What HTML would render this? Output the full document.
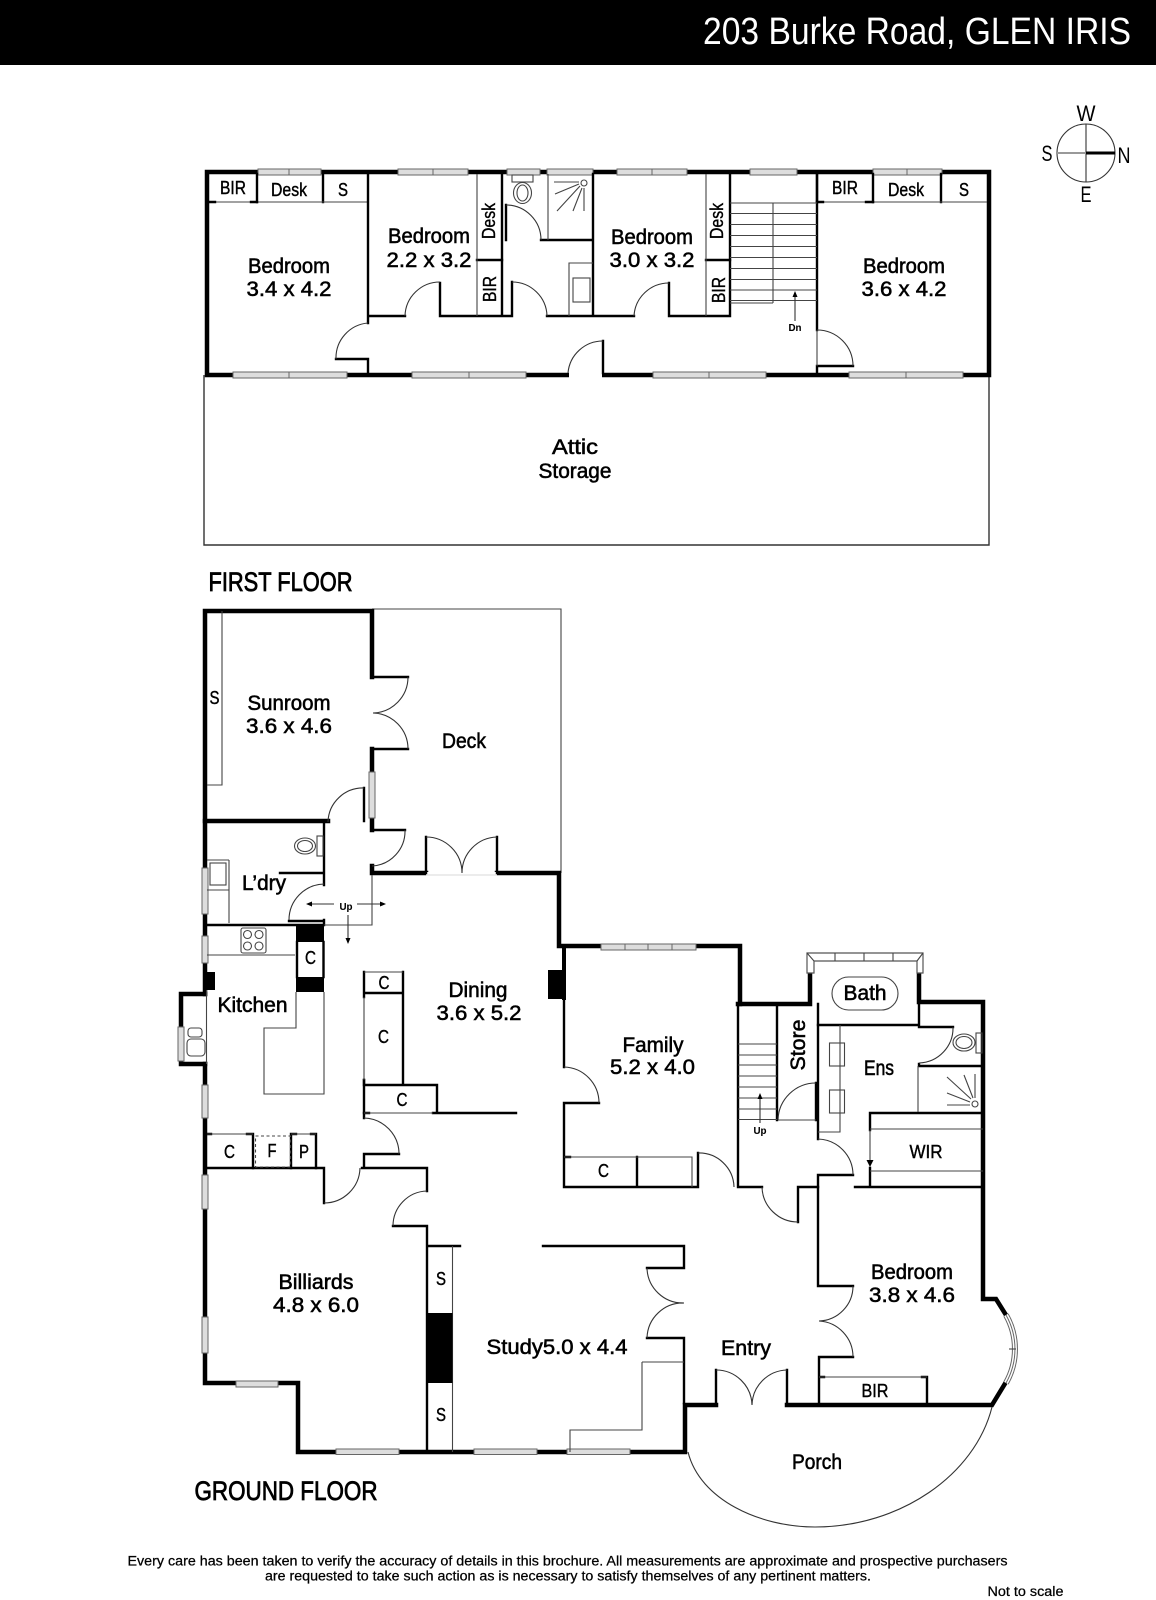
<!DOCTYPE html>
<html><head><meta charset="utf-8"><title>203 Burke Road, GLEN IRIS</title>
<style>
html,body{margin:0;padding:0;background:#fff}
svg{display:block}
text{font-family:"Liberation Sans",sans-serif;fill:#000;text-anchor:middle;stroke:#000;stroke-width:.55}
.f{fill:none}
.W{fill:none;stroke:#000;stroke-width:4.5;stroke-linecap:square}
.M{fill:none;stroke:#000;stroke-width:2.4;stroke-linecap:square}
.T{fill:none;stroke:#444;stroke-width:1.1}
.A{fill:none;stroke:#333;stroke-width:1.1}
.win{fill:#ddd;stroke:#666;stroke-width:1}
.winl{stroke:#666;stroke-width:1}
.r{font-size:21px}.s{font-size:18px;stroke-width:.4}.xs{font-size:10.5px;font-weight:bold;stroke-width:.1}
.h{font-size:27px;stroke-width:.8}.foot{font-size:13.5px;stroke-width:.25}
.ar{fill:#000;stroke:none}
</style></head>
<body>
<svg width="1156" height="1600" viewBox="0 0 1156 1600" xmlns="http://www.w3.org/2000/svg">
<rect width="1156" height="1600" fill="#fff"/>
<rect width="1156" height="65" fill="#000"/>
<text x="917" y="44" font-size="38" textLength="428" lengthAdjust="spacingAndGlyphs" style="fill:#fff;stroke:none">203 Burke Road, GLEN IRIS</text>

<!-- compass -->
<circle cx="1086" cy="153" r="29" class="A"/>
<path d="M1086 124V182" class="A"/>
<path d="M1057 153H1086" stroke="#999" stroke-width="2"/>
<path d="M1086 153H1115" stroke="#000" stroke-width="3"/>
<text x="1086" y="121" font-size="22" textLength="19" lengthAdjust="spacingAndGlyphs" style="stroke:none">W</text>
<text x="1047" y="161" font-size="22" textLength="11" lengthAdjust="spacingAndGlyphs" style="stroke:none">S</text>
<text x="1124" y="163" font-size="22" textLength="13" lengthAdjust="spacingAndGlyphs" style="stroke:none">N</text>
<text x="1086" y="202" font-size="22" textLength="11" lengthAdjust="spacingAndGlyphs" style="stroke:none">E</text>

<!-- FIRST FLOOR plan -->
<path d="M204 375V545H989V375" fill="none" stroke="#333" stroke-width="1.4"/>
<rect x="207" y="172" width="782" height="203" class="W"/>
<g id="ffwin">
<rect class="win" x="258" y="169" width="63" height="6"/><path class="winl" d="M289 169v6"/>
<rect class="win" x="398" y="169" width="70" height="6"/><path class="winl" d="M433 169v6"/>
<rect class="win" x="507" y="169" width="33" height="6"/>
<rect class="win" x="547" y="169" width="46" height="6"/>
<rect class="win" x="617" y="169" width="70" height="6"/><path class="winl" d="M652 169v6"/>
<rect class="win" x="750" y="169" width="47" height="6"/>
<rect class="win" x="873" y="169" width="69" height="6"/><path class="winl" d="M907 169v6"/>
<rect class="win" x="233" y="372" width="114" height="6"/><path class="winl" d="M289 372v6"/>
<rect class="win" x="412" y="372" width="114" height="6"/><path class="winl" d="M469 372v6"/>
<rect class="win" x="653" y="372" width="113" height="6"/><path class="winl" d="M709 372v6"/>
<rect class="win" x="849" y="372" width="114" height="6"/><path class="winl" d="M906 372v6"/>
</g>
<rect x="569" y="372" width="33" height="7" fill="#fff"/>
<path class="M" d="M257 174V202M323 174V202M817 174V202M873 174V202M941 174V202"/>
<path class="T" d="M209 202H368M817 202H987"/>
<path class="M" d="M209 202H215M251 202H257M817 202H823M866 202H873"/>
<path class="M" d="M368 174V323M368 359V373M368 316H405M440 316V283M440 316H502M502 174V316M512 316V282M502 316H512M547 316H593M593 174V316M593 316H634M669 316V283M669 316H730M730 174V316M817 174V330M817 366V373M817 366H853M336 359H368M506 205V240M541 240H593M603 341V373"/>
<path class="M" d="M477 260H502M706 260H730"/>
<path class="T" d="M477 174V316M706 174V316M548 174V240M569 316V263H593"/>
<rect x="573" y="278" width="17" height="24" class="T"/>
<path class="T" d="M817 330V366"/>
<g class="A">
<path class="f" d="M368 323A35 35 0 0 0 336 359M405 316A35 35 0 0 1 440 282M506 205A35 35 0 0 1 541 240M512 282A35 35 0 0 1 547 316M634 316A35 35 0 0 1 669 283M568 373A35 35 0 0 1 603 341M817 330A36 36 0 0 1 853 366"/>
</g>
<!-- toilet, shower -->
<rect x="512" y="175" width="21" height="7" class="T"/>
<ellipse cx="522.5" cy="193" rx="9" ry="10.5" class="T"/><ellipse cx="522.5" cy="193" rx="5.5" ry="8" class="T"/>
<circle cx="584" cy="183" r="3" class="T"/>
<path class="T" d="M579 182H554M579 184L555 194M580 186L557 211M582 188L573 211M584 188V211"/>
<!-- stairs -->
<path class="T" d="M730 203H817M730 213.500H817M730 224.500H817M730 235.500H817M730 246.500H817M730 257.500H817M730 268.500H817M730 279.500H817M730 290H817M730 300.500H817M773 203V303M730 303H773"/>
<path class="A" d="M795 321V295"/><path class="ar" d="M795 291l-2.500 6h5z"/>
<text class="xs" x="795" y="331" textLength="13" lengthAdjust="spacingAndGlyphs">Dn</text>

<!-- FF labels -->
<text class="r" x="289" y="273" textLength="82" lengthAdjust="spacingAndGlyphs">Bedroom</text>
<text class="r" x="289" y="296" textLength="85" lengthAdjust="spacingAndGlyphs">3.4 x 4.2</text>
<text class="r" x="429" y="243" textLength="82" lengthAdjust="spacingAndGlyphs">Bedroom</text>
<text class="r" x="429" y="267" textLength="85" lengthAdjust="spacingAndGlyphs">2.2 x 3.2</text>
<text class="r" x="652" y="244" textLength="82" lengthAdjust="spacingAndGlyphs">Bedroom</text>
<text class="r" x="652" y="267" textLength="85" lengthAdjust="spacingAndGlyphs">3.0 x 3.2</text>
<text class="r" x="904" y="273" textLength="82" lengthAdjust="spacingAndGlyphs">Bedroom</text>
<text class="r" x="904" y="296" textLength="85" lengthAdjust="spacingAndGlyphs">3.6 x 4.2</text>
<text class="s" x="233" y="194" textLength="26" lengthAdjust="spacingAndGlyphs">BIR</text>
<text class="s" x="289" y="196" textLength="36" lengthAdjust="spacingAndGlyphs">Desk</text>
<text class="s" x="343" y="196" textLength="10" lengthAdjust="spacingAndGlyphs">S</text>
<text class="s" x="845" y="194" textLength="26" lengthAdjust="spacingAndGlyphs">BIR</text>
<text class="s" x="906" y="196" textLength="36" lengthAdjust="spacingAndGlyphs">Desk</text>
<text class="s" x="964" y="196" textLength="10" lengthAdjust="spacingAndGlyphs">S</text>
<text class="s" transform="translate(495 221) rotate(-90)" textLength="36" lengthAdjust="spacingAndGlyphs">Desk</text>
<text class="s" transform="translate(496 289) rotate(-90)" textLength="26" lengthAdjust="spacingAndGlyphs">BIR</text>
<text class="s" transform="translate(723 221) rotate(-90)" textLength="36" lengthAdjust="spacingAndGlyphs">Desk</text>
<text class="s" transform="translate(725 290) rotate(-90)" textLength="26" lengthAdjust="spacingAndGlyphs">BIR</text>
<text class="r" x="575" y="454" textLength="46" lengthAdjust="spacingAndGlyphs">Attic</text>
<text class="r" x="575" y="478" textLength="73" lengthAdjust="spacingAndGlyphs">Storage</text>
<text class="h" x="280.500" y="591" textLength="144" lengthAdjust="spacingAndGlyphs">FIRST FLOOR</text>

<!-- GROUND FLOOR -->
<!-- deck -->
<path class="T" d="M372 609H561V873"/>
<!-- outer heavy walls -->
<path class="W" d="M372 677V611H205V994"/>
<path class="W" d="M205 1064V1383H298V1452H685V1405H716"/>
<path class="W" d="M787 1405H992L1006 1382"/>
<path class="W" d="M372 749V820M205 821H328M372 820V830M372 866V873H426M497 873H559V946H740V1004"/>
<path class="W" d="M738 1004H810V973M919 973V1002H983V1299H996L1006 1315"/>
<path class="W" d="M181 1027V994H205M181 1061V1064H205"/>
<rect x="203" y="972" width="12" height="18" fill="#000"/>
<rect x="548" y="970" width="16" height="29" fill="#000"/>
<rect x="562" y="946" width="4" height="54" fill="#000"/>
<!-- ground windows -->
<g>
<rect class="win" x="369" y="772" width="6" height="46"/>
<rect class="win" x="202" y="868" width="6" height="46"/>
<rect class="win" x="202" y="936" width="6" height="27"/>
<rect class="win" x="178" y="1027" width="6" height="34"/>
<rect class="win" x="202" y="1085" width="6" height="33"/>
<rect class="win" x="202" y="1175" width="6" height="34"/>
<rect class="win" x="202" y="1317" width="6" height="36"/>
<rect class="win" x="236" y="1381" width="42" height="6"/>
<rect class="win" x="336" y="1449" width="63" height="5.500"/>
<rect class="win" x="474" y="1449" width="63" height="5.500"/>
<rect class="win" x="567" y="1449" width="63" height="5.500"/>
<rect class="win" x="601" y="944" width="95" height="6"/><path class="winl" d="M625 944v6M648 944v6M672 944v6"/>
</g>
<rect x="426" y="872" width="71" height="4" fill="#fff"/><path d="M426 875H497" stroke="#ccc" stroke-width=".8"/>
<!-- bay window at bath -->
<path d="M807 973V953H923V973H917V961H814V973Z" fill="#fff" stroke="#555" stroke-width="1.2"/>
<path class="T" d="M835 953V961M864 953V961M893 953V961M807 953L814 961M923 953L917 961"/>
<!-- interior medium walls -->
<path class="M" d="M324 821V885M280 873H324M289 921H324M207 925H324M364 788V821M324 920V925"/>
<path class="M" d="M364 1080V1118M364 1154H399M364 1154V1168M207 1168H324V1203M362 1168H427V1191M427 1226V1452M393 1226H427M427 1246H460"/>
<path class="M" d="M364 972V997M403 972V1085M364 1085H437V1113M433 1113H516M364 1080V1085M364 1113H369M364 993H403"/>
<path class="M" d="M253 1134V1168M291 1134V1168M316 1134V1168M247 1134H253M291 1134H296M311 1134H316M207 1134H211"/>
<path class="T" d="M207 1134H253M291 1134H316M364 972H403M364 997V1080M364 1113H433"/>
<rect x="255.500" y="1136" width="35" height="31" fill="none" stroke="#444" stroke-width="1.100" stroke-dasharray="3 2.500"/>
<rect x="296" y="926" width="28" height="16" fill="#000"/>
<rect x="296" y="977" width="28" height="15" fill="#000"/>
<path class="M" d="M297 942V977M323.500 942V977"/>
<path class="T" d="M207 955H295M324 992V1094H264V1028H296V992M229 860H207M229 860V923M207 890H229M372 875V925H324"/>
<rect x="210" y="863" width="16" height="22" class="T"/>
<!-- family -->
<path class="M" d="M564 1000V1067M564 1103V1187H698V1153M564 1103H599M637 1157V1187M738 1004V1187H762M798 1187H818M798 1187V1222M564 1157H570"/>
<path class="T" d="M564 1157H692V1187"/>
<path class="M" d="M777 1004V1120M818 1004V1139M816 1083V1120M818 1175V1286M818 1175H853M819 1286H853M819 1357H853M819 1357V1405M927 1377V1405M819 1377H824M922 1377H927"/>
<path class="T" d="M819 1377H927"/>
<path class="M" d="M919 1002V1025M818 1025H919M919 1027H953M919 1064V1066H983M870 1113H983M870 1113V1130M870 1168V1187M855 1187H983"/>
<path class="T" d="M918 1066V1112M840 1025V1132H818M870 1129H983M870 1171H983M870 1130V1162"/>
<path class="ar" d="M870 1167l-3.500-7h7z"/>
<rect x="829.500" y="1043" width="15" height="23" class="T" fill="#fff"/><rect x="829.500" y="1090" width="15" height="23" class="T" fill="#fff"/>
<rect x="832" y="977" width="66" height="33" rx="16.500" class="T"/>
<!-- toilet -->
<rect x="976" y="1033" width="6" height="20" class="T"/>
<ellipse cx="964" cy="1042.500" rx="11" ry="8.500" class="T"/><ellipse cx="964" cy="1042.500" rx="8" ry="6" class="T"/>
<rect x="317" y="836" width="6" height="20" class="T"/>
<ellipse cx="305" cy="846" rx="10.500" ry="8" class="T"/><ellipse cx="305" cy="846" rx="7.500" ry="5.500" class="T"/>
<!-- shower ens -->
<circle cx="975" cy="1104" r="3" class="T"/>
<path class="T" d="M970 1105H947M970 1102L947 1093M971 1099L947 1077M973 1098L964 1075M975 1098V1074"/>
<!-- cooktop -->
<rect x="241" y="928" width="25" height="25" rx="2" class="T"/>
<circle cx="247.500" cy="934.500" r="4" class="T"/><circle cx="259" cy="934.500" r="4" class="T"/><circle cx="247.500" cy="946" r="4" class="T"/><circle cx="259" cy="946" r="4" class="T"/>
<!-- kitchen sink -->
<path class="T" d="M206.500 990V1064"/>
<rect x="188" y="1028" width="14" height="9" rx="3" class="T"/><rect x="187" y="1039" width="18" height="17" rx="4" class="T"/>
<!-- stairs -->
<path class="T" d="M738 1044H777M738 1055H777M738 1065H777M738 1076H777M738 1087H777M738 1098H777M738 1109H777M738 1119.500H777M778 1120H816"/>
<path class="A" d="M760 1123V1097"/><path class="ar" d="M760 1093l-2.500 6h5z"/>
<text class="xs" x="760" y="1134" textLength="13" lengthAdjust="spacingAndGlyphs">Up</text>
<!-- up arrows -->
<path class="A" d="M310 904H334M357 904H382M348 915V940"/>
<path class="ar" d="M306 904l6-2.500v5zM386 904l-6-2.500v5zM348 944l-2.500-6h5z"/>
<text class="xs" x="346" y="910" textLength="13" lengthAdjust="spacingAndGlyphs">Up</text>
<!-- S cupboard -->
<path class="T" d="M222 611V785H207"/>
<!-- study -->
<path class="M" d="M543 1246H684V1268M647 1268H684M647 1338H684V1403M716 1370V1405M787 1370V1405"/>
<path class="T" d="M452.500 1246V1452M642 1362H684M642 1362V1430H570V1452"/>
<rect x="427" y="1313" width="25.500" height="70" fill="#000"/>
<path class="M" d="M426 837V873M497 837V873"/>
<path class="M" d="M372 677H408M372 749H408M372 830H405"/>
<!-- door arcs -->
<path class="A" d="M408 677A36 36 0 0 1 373 713M373 713A36 36 0 0 1 408 749M364 788A35 35 0 0 0 328 822M405 830A35 35 0 0 1 372 866M426 837A36 36 0 0 1 462 873M497 837A36 36 0 0 0 462 873M324 884A36 36 0 0 0 289 920M364 1118A36 36 0 0 1 399 1154M324 1203A36 36 0 0 0 360 1168M427 1191A35 35 0 0 0 393 1226M564 1067A36 36 0 0 1 599 1103M698 1153A35 35 0 0 1 734 1187M816 1083A38 38 0 0 0 778 1120M953 1027A35 35 0 0 1 919 1063M818 1139A36 36 0 0 1 853 1175M798 1222A36 36 0 0 1 762 1187M647 1268A36 36 0 0 0 684 1303M684 1303A36 36 0 0 0 647 1338M853 1286A35 35 0 0 1 819 1321M819 1321A36 36 0 0 1 853 1357M716 1370A36 36 0 0 1 752 1405M787 1370A36 36 0 0 0 752 1405"/>
<!-- bay bedroom window -->
<path d="M1006 1315A69 69 0 0 1 1006 1383" fill="none" stroke="#666" stroke-width="6"/>
<path d="M1006 1315A69 69 0 0 1 1006 1383" fill="none" stroke="#fff" stroke-width="4"/>
<path d="M1006 1315A69 69 0 0 1 1006 1383" fill="none" stroke="#666" stroke-width="1"/>
<path class="T" d="M1009 1349H1016"/>
<!-- porch -->
<path class="A" d="M688 1452C700 1500 760 1527 815 1527C900 1527 975 1475 992 1407"/>

<!-- labels -->
<text class="r" x="289" y="710" textLength="83" lengthAdjust="spacingAndGlyphs">Sunroom</text>
<text class="r" x="289" y="733" textLength="86" lengthAdjust="spacingAndGlyphs">3.6 x 4.6</text>
<text class="s" x="214.500" y="704" textLength="10" lengthAdjust="spacingAndGlyphs">S</text>
<text class="r" x="464" y="748" textLength="44" lengthAdjust="spacingAndGlyphs">Deck</text>
<text class="r" x="264" y="890" textLength="44" lengthAdjust="spacingAndGlyphs">L’dry</text>
<text class="r" x="252.500" y="1012" textLength="70" lengthAdjust="spacingAndGlyphs">Kitchen</text>
<text class="s" x="310.500" y="964" textLength="11" lengthAdjust="spacingAndGlyphs">C</text>
<text class="s" x="384" y="989" textLength="11" lengthAdjust="spacingAndGlyphs">C</text>
<text class="s" x="383.500" y="1043" textLength="11" lengthAdjust="spacingAndGlyphs">C</text>
<text class="s" x="402" y="1106" textLength="11" lengthAdjust="spacingAndGlyphs">C</text>
<text class="r" x="478" y="997" textLength="59" lengthAdjust="spacingAndGlyphs">Dining</text>
<text class="r" x="479" y="1020" textLength="85" lengthAdjust="spacingAndGlyphs">3.6 x 5.2</text>
<text class="s" x="229.500" y="1158" textLength="11" lengthAdjust="spacingAndGlyphs">C</text>
<text class="s" x="272" y="1157" textLength="9" lengthAdjust="spacingAndGlyphs">F</text>
<text class="s" x="304" y="1158" textLength="10" lengthAdjust="spacingAndGlyphs">P</text>
<text class="r" x="653" y="1052" textLength="61" lengthAdjust="spacingAndGlyphs">Family</text>
<text class="r" x="652.500" y="1074" textLength="85" lengthAdjust="spacingAndGlyphs">5.2 x 4.0</text>
<text class="s" x="603.500" y="1177" textLength="11" lengthAdjust="spacingAndGlyphs">C</text>
<text class="r" transform="translate(805 1045) rotate(-90)" textLength="51" lengthAdjust="spacingAndGlyphs">Store</text>
<text class="r" x="865" y="1000" textLength="43" lengthAdjust="spacingAndGlyphs">Bath</text>
<text class="r" x="879" y="1075" textLength="30" lengthAdjust="spacingAndGlyphs">Ens</text>
<text class="s" x="926" y="1158" textLength="33" lengthAdjust="spacingAndGlyphs">WIR</text>
<text class="r" x="912" y="1279" textLength="82" lengthAdjust="spacingAndGlyphs">Bedroom</text>
<text class="r" x="912" y="1302" textLength="86" lengthAdjust="spacingAndGlyphs">3.8 x 4.6</text>
<text class="s" x="875" y="1397" textLength="27" lengthAdjust="spacingAndGlyphs">BIR</text>
<text class="r" x="746" y="1355" textLength="50" lengthAdjust="spacingAndGlyphs">Entry</text>
<text class="r" x="817" y="1469" textLength="50" lengthAdjust="spacingAndGlyphs">Porch</text>
<text class="r" x="316" y="1289" textLength="75" lengthAdjust="spacingAndGlyphs">Billiards</text>
<text class="r" x="316" y="1312" textLength="86" lengthAdjust="spacingAndGlyphs">4.8 x 6.0</text>
<text class="s" x="441" y="1285" textLength="10" lengthAdjust="spacingAndGlyphs">S</text>
<text class="s" x="441" y="1421" textLength="10" lengthAdjust="spacingAndGlyphs">S</text>
<text class="r" x="557" y="1354" textLength="141" lengthAdjust="spacingAndGlyphs">Study5.0 x 4.4</text>
<text class="h" x="286" y="1500" textLength="183" lengthAdjust="spacingAndGlyphs">GROUND FLOOR</text>
<text class="foot" x="567.500" y="1565.500" textLength="880" lengthAdjust="spacingAndGlyphs">Every care has been taken to verify the accuracy of details in this brochure.  All measurements are approximate and prospective purchasers</text>
<text class="foot" x="568" y="1580.500" textLength="606" lengthAdjust="spacingAndGlyphs">are requested to take such action as is necessary to satisfy themselves of any pertinent matters.</text>
<text class="foot" x="1025.500" y="1596" textLength="76" lengthAdjust="spacingAndGlyphs">Not to scale</text>
</svg>
</body></html>
